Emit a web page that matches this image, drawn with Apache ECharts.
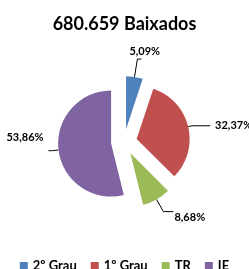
<!DOCTYPE html>
<html><head><meta charset="utf-8">
<script src="https://cdn.jsdelivr.net/npm/echarts@6/dist/echarts.min.js"></script>
<style>html,body{margin:0;padding:0;background:#fff}#c{width:249px;height:269px}</style>
</head><body><div id="c"></div>
<script>
const titleText = '680.659 Baixados';
const categories = ['2º Grau', '1º Grau', 'TR', 'IE'];
const values = [5.09, 32.37, 8.68, 53.86];
const labels = ['5,09%', '32,37%', '8,68%', '53,86%'];
const colors = ['#4F81BD', '#C0504D', '#9BBB59', '#8064A2'];
const lineLen = [18, 4, 14, 6];
const lineLen2 = [4, 18, 10, 4];
const labelDx = [-17, 0, -4, 0];
const labelDy = [-8, 0, 6, -13];

const FONT = 'Lato';
const chart = echarts.init(document.getElementById('c'), null, {renderer: 'canvas'});
chart.setOption({
  animation: false,
  title: {text: titleText, left: 'center', top: 10,
    textStyle: {fontFamily: FONT, fontWeight: 'bold', fontSize: 18, color: '#000'}},
  legend: {top: 254.5, left: 'center', itemWidth: 8, itemHeight: 8, itemGap: 14, icon: 'rect',
    textStyle: {fontFamily: FONT, fontWeight: 'bold', fontSize: 13, color: '#000'},
    data: categories},
  color: colors,
  series: [{
    type: 'pie', center: [124, 142], radius: 53, startAngle: 90, clockwise: true,
    selectedMode: 'multiple', selectedOffset: 13,
    itemStyle: {borderWidth: 0},
    label: {show: true, position: 'outside', overflow: 'none', fontFamily: FONT, fontWeight: 'bold', fontSize: 11, color: '#000',
      formatter: p => labels[p.dataIndex]},
    labelLine: {show: true, lineStyle: {color: '#000', width: 1}},
    labelLayout: p => ({dx: labelDx[p.dataIndex], dy: labelDy[p.dataIndex]}),
    data: categories.map((c, i) => ({name: c, value: values[i], selected: true,
      labelLine: {length: lineLen[i], length2: lineLen2[i]}}))
  }]
});
</script></body></html>
